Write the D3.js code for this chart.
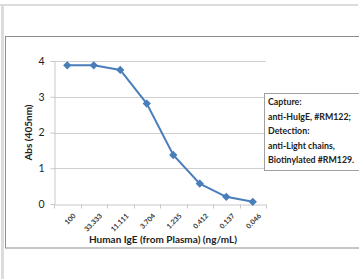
<!DOCTYPE html>
<html>
<head>
<meta charset="utf-8">
<script src="https://cdn.jsdelivr.net/npm/d3@7"></script>
<style>
  body { margin: 0; background: #fff; }
  svg { display: block; }
</style>
</head>
<body>
<div class="chart-area"></div>
<script>
var concentrations = ['100', '33.333', '11.111', '3.704', '1.235', '0.412', '0.137', '0.046'];
var absValues = [3.88, 3.88, 3.75, 2.81, 1.37, 0.57, 0.2, 0.06];
var yTicks = [0, 1, 2, 3, 4];
var legendLines = ['Capture:', 'anti-HuIgE, #RM122;', 'Detection:', 'anti-Light chains,', 'Biotinylated #RM129.'];

var W = 359, H = 279;
var margin = { left: 54, right: 93, top: 61, bottom: 75 };
var width = W - margin.left - margin.right,
    height = H - margin.top - margin.bottom;

var svg = d3.select('.chart-area').append('svg')
    .attr('width', W).attr('height', H);

// page frame
svg.append('rect').attr('x', 0).attr('y', 4).attr('width', 358).attr('height', 2).attr('fill', '#dcdcdc');
svg.append('rect').attr('x', 1).attr('y', 4).attr('width', 3).attr('height', H).attr('fill', '#dcdcdc');
svg.append('rect').attr('x', 356).attr('y', 37).attr('width', 1).attr('height', 211).attr('fill', '#f0f0f0');

// chart box
svg.append('rect')
    .attr('x', 5.5).attr('y', 36.5).attr('width', 400).attr('height', 211.5)
    .attr('fill', '#fff').attr('stroke', '#8c8c8c').attr('stroke-width', 1);

var g = svg.append('g').attr('transform', 'translate(' + margin.left + ',' + margin.top + ')');

var x = d3.scaleBand().domain(concentrations).range([0, width]);
var y = d3.scaleLinear().domain([0, 4]).range([height, 0]);

// gridlines
g.selectAll('.grid').data(yTicks.slice(1)).enter().append('line')
    .attr('x1', 0).attr('x2', width)
    .attr('y1', function(d) { return Math.round(y(d)) + 0.5; })
    .attr('y2', function(d) { return Math.round(y(d)) + 0.5; })
    .attr('stroke', '#d0d0d0').attr('stroke-width', 1);

// y axis
var yAxis = g.append('g').attr('transform', 'translate(0.5,0)')
    .call(d3.axisLeft(y).tickValues(yTicks).tickFormat(d3.format('d')).tickSize(4).tickPadding(6));
yAxis.select('.domain').attr('stroke', '#c8c8c8');
yAxis.selectAll('.tick line').attr('stroke', '#c8c8c8');
yAxis.selectAll('text').attr('font-family', 'Lato, sans-serif').attr('font-size', 10.5).attr('fill', '#222');

// x axis
var xAxis = g.append('g').attr('transform', 'translate(0,' + (Math.round(height) + 0.5) + ')')
    .call(d3.axisBottom(x).tickSize(0).tickPadding(6));
xAxis.select('.domain').attr('stroke', '#c8c8c8');
xAxis.selectAll('.cat-tick').data(d3.range(concentrations.length + 1)).enter().append('line')
    .attr('class', 'cat-tick')
    .attr('x1', function(i) { return Math.round(i * x.step()) + 0.5; })
    .attr('x2', function(i) { return Math.round(i * x.step()) + 0.5; })
    .attr('y1', 0).attr('y2', 4).attr('stroke', '#c8c8c8');
xAxis.selectAll('.tick text')
    .attr('font-family', 'Lato, sans-serif').attr('font-size', 7).attr('font-weight', 'bold').attr('fill', '#333')
    .attr('text-anchor', 'end')
    .attr('dy', '0.35em')
    .attr('transform', 'translate(3,6) rotate(-45)');

// line
var line = d3.line()
    .x(function(d, i) { return x(concentrations[i]) + x.bandwidth() / 2; })
    .y(function(d) { return y(d); });

g.append('path').datum(absValues)
    .attr('d', line).attr('fill', 'none')
    .attr('stroke', '#4a7ebb').attr('stroke-width', 2);

g.selectAll('.pt').data(absValues).enter().append('path')
    .attr('class', 'pt')
    .attr('d', d3.symbol().type(d3.symbolDiamond2).size(44))
    .attr('transform', function(d, i) {
        return 'translate(' + (x(concentrations[i]) + x.bandwidth() / 2) + ',' + y(d) + ')';
    })
    .attr('fill', '#4a7ebb');

// axis titles
g.append('text')
    .attr('transform', 'translate(-22,' + (height / 2) + ') rotate(-90)')
    .attr('text-anchor', 'middle')
    .attr('font-family', 'Lato, sans-serif').attr('font-size', 10).attr('font-weight', 'bold')
    .attr('fill', '#222')
    .text('Abs (405nm)');

g.append('text')
    .attr('x', width / 2 + 3).attr('y', height + 39)
    .attr('text-anchor', 'middle')
    .attr('font-family', 'Lato, sans-serif').attr('font-size', 10).attr('font-weight', 'bold')
    .attr('fill', '#222')
    .text('Human IgE (from Plasma) (ng/mL)');

// legend box
var leg = svg.append('g').attr('transform', 'translate(264,93)');
leg.append('rect').attr('x', 0.5).attr('y', 0.5).attr('width', 120).attr('height', 77)
    .attr('fill', '#fff').attr('stroke', '#a0a0a0');
leg.selectAll('text').data(legendLines).enter().append('text')
    .attr('x', 4).attr('y', function(d, i) { return 12 + i * 14.6; })
    .attr('font-family', 'Lato, sans-serif').attr('font-size', 8.8).attr('font-weight', 'bold')
    .attr('fill', '#222')
    .text(function(d) { return d; });
</script>
</body>
</html>
